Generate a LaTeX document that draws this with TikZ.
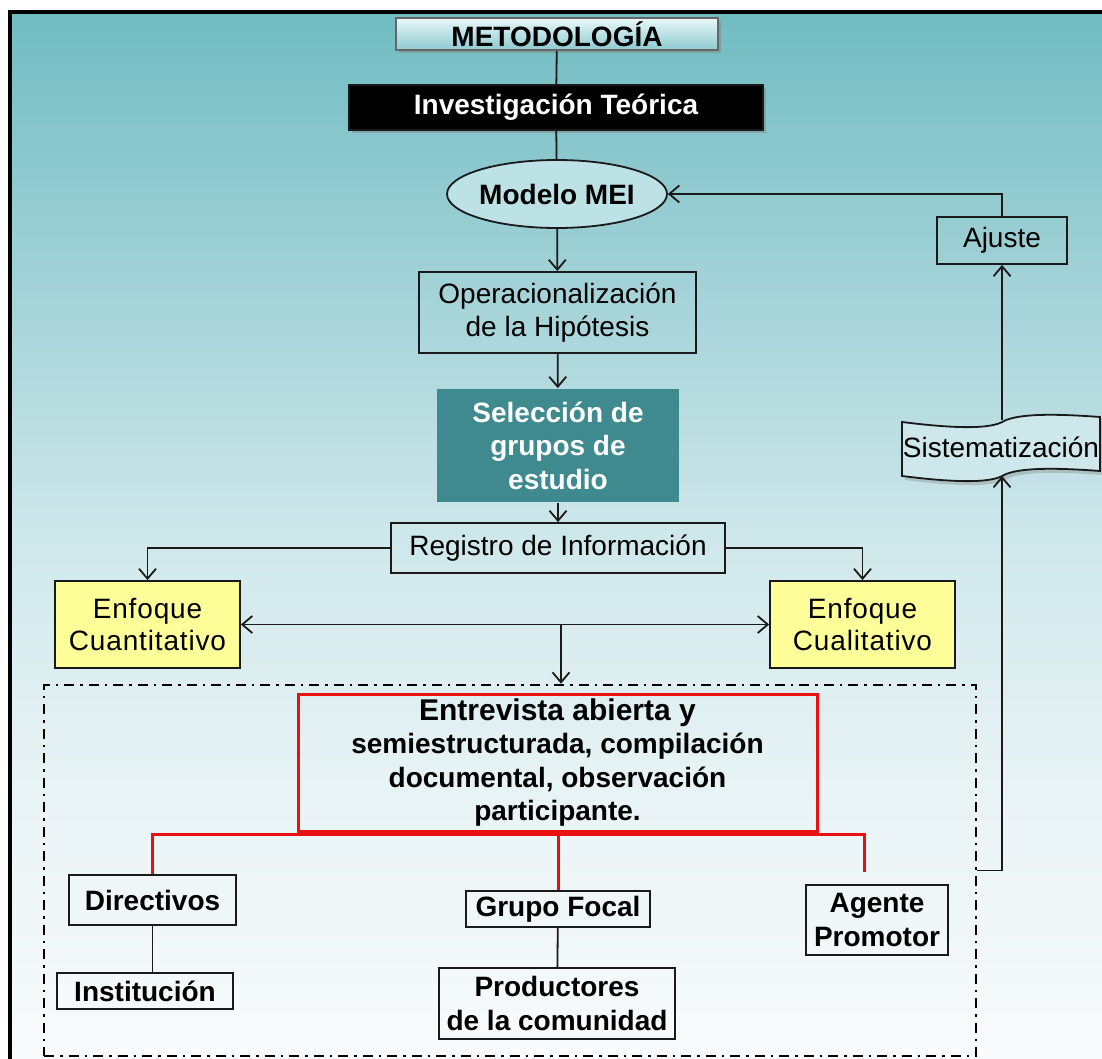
\documentclass[tikz,border=0pt]{standalone}
\usepackage{fontspec}
\setmainfont{Liberation Sans}
\usetikzlibrary{arrows.meta,shapes.geometric,shadows,calc}

\definecolor{bgA}{HTML}{F8FBFC}
\definecolor{bgB}{HTML}{EAF4F6}
\definecolor{bgC}{HTML}{D2E9EC}
\definecolor{bgD}{HTML}{A6D4D9}
\definecolor{bgE}{HTML}{70BCC2}
\definecolor{titletop}{HTML}{EAF8F9}
\definecolor{titlebot}{HTML}{8CCAD0}
\definecolor{ovalfill}{HTML}{BDE2E6}
\definecolor{selfill}{HTML}{3F8A8E}
\definecolor{enfill}{HTML}{FFFF99}
\definecolor{tapefill}{HTML}{CDE7EA}
\definecolor{linecol}{HTML}{1A1A1A}
\definecolor{redline}{HTML}{E81010}

% background of the panel: teal at the top fading to near white
\pgfdeclareverticalshading{panelshade}{100bp}{color(0bp)=(bgA); color(25bp)=(bgA); color(37bp)=(bgB); color(49bp)=(bgC); color(61bp)=(bgD); color(75bp)=(bgE); color(100bp)=(bgE)}

\newcommand\regtext{\fontsize{28}{32.5}\selectfont}
\newcommand\boldtext{\fontsize{28}{33.5}\selectfont\bfseries}
\newcommand\widetext{\fontsize{28}{32.5}\selectfont\addfontfeatures{LetterSpace=3}}

\begin{document}
\begin{tikzpicture}[x=1pt,y=-1pt,
  plainbox/.style={draw=linecol, line width=1.8pt, inner sep=0pt, align=center, font=\regtext},
  boldbox/.style={plainbox, font=\boldtext},
  yellowbox/.style={plainbox, fill=enfill, font=\widetext},
  conn/.style={draw=linecol, line width=1.8pt},
  arr/.style={conn, -{Straight Barb[length=10pt,width=17pt]}},
  dblarr/.style={conn, {Straight Barb[length=10pt,width=17pt]}-{Straight Barb[length=10pt,width=17pt]}},
  redconn/.style={draw=redline, line width=3pt},
  dashdot/.style={draw=black, line width=2.6pt, dash pattern=on 10pt off 6pt on 2.5pt off 6pt}
]
\useasboundingbox (0,0) rectangle (1102,1059);
\fill[white] (0,0) rectangle (1102,1059);

% panel with frame
\shade[shading=panelshade] (9.5,12) rectangle (1110,1065);
\draw[line width=4pt] (9.5,1070) -- (9.5,12) -- (1110,12);

% title and first steps
\node[boldbox, draw=black!60, top color=titletop, bottom color=titlebot,
      minimum width=322pt, minimum height=32pt,
      drop shadow={shadow xshift=3pt, shadow yshift=-3pt, opacity=0.45}] (meto) at (557,34) {METODOLOGÍA};
\node[boldbox, fill=black, text=white, minimum width=414pt, minimum height=45pt,
      drop shadow={shadow xshift=3pt, shadow yshift=-3pt, opacity=0.45}] (inv) at (556,107.5) {Investigación Teórica};
\node[boldbox, ellipse, fill=ovalfill, minimum width=184pt, minimum height=68pt] (mei) at (557,194) {Modelo MEI};
\node[plainbox, minimum width=277pt, minimum height=81pt] (oper) at (557.5,312.5) {Operacionalización\\de la Hipótesis};
\node[boldbox, draw=none, fill=selfill, text=white, minimum width=242pt, minimum height=113pt] (sel) at (558,445.5) {Selección de\\grupos de\\estudio};
\node[plainbox, minimum width=334pt, minimum height=50pt] (reg) at (558,548) {Registro de Información};
\node[yellowbox, minimum width=185pt, minimum height=87pt] (cuanti) at (147.5,624.5) {Enfoque\\Cuantitativo};
\node[yellowbox, minimum width=185pt, minimum height=87pt] (cuali) at (862.5,624.5) {Enfoque\\Cualitativo};

% feedback loop
\node[plainbox, minimum width=130pt, minimum height=47pt] (ajuste) at (1002,240.5) {Ajuste};
\shade[top color=tapefill, bottom color=tapefill, drop shadow={shadow xshift=3pt, shadow yshift=-4pt, opacity=0.35}]
  (902,422) .. controls (950,428) and (990,430) .. (1004,421) .. controls (1020,413) and (1060,414) .. (1100,417)
  -- (1100,471) .. controls (1060,468) and (1020,467) .. (1004,475) .. controls (990,484) and (950,482) .. (902,476) -- cycle;
\draw[linecol, line width=1.8pt]
  (902,422) .. controls (950,428) and (990,430) .. (1004,421) .. controls (1020,413) and (1060,414) .. (1100,417)
  -- (1100,471) .. controls (1060,468) and (1020,467) .. (1004,475) .. controls (990,484) and (950,482) .. (902,476) -- cycle;
\node[font=\regtext, inner sep=0pt] (sis) at (1001,447) {Sistematización};
\coordinate (sistop) at (1002,420);
\coordinate (sisbot) at (1002,476);

% data collection group
\node[dashdot, minimum width=932pt, minimum height=371pt, inner sep=0pt] (group) at (510,870.5) {};
\node[boldbox, draw=redline, line width=3pt, minimum width=519pt, minimum height=137pt] (entre) at (557.5,762.5)
  {\fontsize{30}{35.5}\selectfont Entrevista abierta y\\semiestructurada, compilación\\documental, observación\\participante.};
\node[boldbox, minimum width=167pt, minimum height=50pt] (dir) at (152.5,900) {Directivos};
\node[boldbox, minimum width=176pt, minimum height=36pt] (inst) at (145,991) {Institución};
\node[boldbox, minimum width=184pt, minimum height=36pt] (focal) at (558,909) {Grupo Focal};
\node[boldbox, minimum width=236pt, minimum height=71pt] (prod) at (557,1003.5) {Productores\\de la comunidad};
\node[boldbox, minimum width=142pt, minimum height=70pt] (agente) at (877,920) {Agente\\Promotor};

% main flow
\draw[conn] (meto) -- (inv);
\draw[conn] (inv) -- (mei);
\draw[arr] (mei) -- (oper);
\draw[arr] (oper) -- (sel);
\draw[arr] (sel) -- (reg);
\draw[arr] (reg.west) -| (cuanti.north);
\draw[arr] (reg.east) -| (cuali.north);
\draw[dblarr] (cuanti.east) -- (cuali.west);
\coordinate (mid) at (561,624.5);
\draw[arr] (mid) -- (mid |- group.north);

% red branches
\coordinate (bus) at (558,834);
\coordinate (agtop) at (864,872);
\draw[redconn] (dir.north) |- (agtop |- bus) -- (agtop);
\draw[redconn] (bus) -- (focal.north);
\draw[conn] (dir.south) -- (dir.south |- inst.north);
\draw[conn] (focal) -- (prod);

% return path
\draw[arr] (group.east) -| (sisbot);
\draw[arr] (sistop) -- (ajuste.south);
\draw[arr] (ajuste.north) |- (mei.east);
\end{tikzpicture}
\end{document}
